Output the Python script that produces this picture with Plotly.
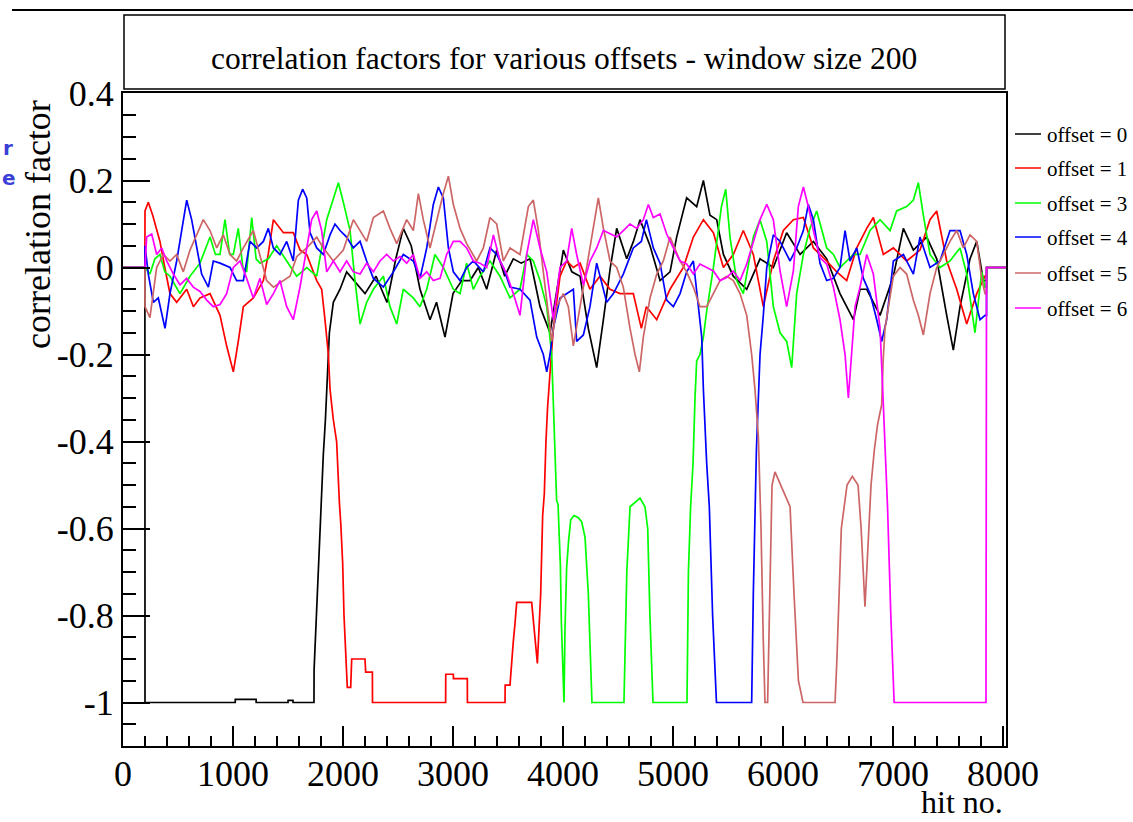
import plotly.graph_objects as go

W, H = 1133, 822

# ---- data: (hit no., correlation factor) ----
OFFSET_0 = [(0, 0), (199, 0), (200, -1), (1020, -1), (1021, -0.993), (1210, -0.993), (1211, -1), (1500, -1),
            (1501, -0.995), (1545, -0.995), (1546, -1), (1736, -1), (1737, -0.925), (1755, -0.82), (1775, -0.7),
            (1791, -0.6), (1806, -0.5), (1821, -0.43), (1840, -0.35), (1860, -0.25), (1876, -0.15), (1912, -0.08),
            (1973, -0.05), (2033, -0.01), (2100, -0.03), (2200, -0.06), (2300, -0.02), (2400, -0.08), (2480, 0.02),
            (2548, 0.09), (2620, 0.05), (2700, -0.05), (2791, -0.12), (2850, -0.08), (2927, -0.16), (3000, -0.06),
            (3080, -0.03), (3155, -0.03), (3230, 0.0), (3306, -0.05), (3397, 0.04), (3470, -0.02), (3548, 0.02),
            (3620, 0.01), (3700, 0.02), (3791, -0.09), (3882, -0.15), (3940, -0.06), (4003, 0.04), (4080, -0.01),
            (4155, -0.02), (4230, -0.14), (4306, -0.23), (4367, -0.12), (4430, 0.0), (4488, 0.09), (4579, 0.02),
            (4640, 0.06), (4700, 0.11), (4791, 0.05), (4882, -0.03), (4973, -0.01), (5033, 0.07), (5124, 0.16),
            (5215, 0.14), (5276, 0.2), (5336, 0.12), (5397, 0.11), (5458, 0.03), (5548, -0.02), (5670, -0.05),
            (5791, 0.02), (5912, 0.0), (6033, 0.08), (6155, 0.03), (6276, 0.06), (6397, 0.02), (6518, -0.06),
            (6579, -0.09), (6640, -0.12), (6700, -0.05), (6761, -0.05), (6882, -0.11), (7003, -0.02), (7094, 0.09),
            (7185, 0.04), (7306, 0.07), (7397, 0.02), (7488, -0.11), (7548, -0.19), (7609, -0.09), (7700, 0.02),
            (7761, 0.06), (7821, -0.03), (7850, -0.03), (7851, 0), (8040, 0)]

OFFSET_1 = [(0, 0), (199, 0), (200, 0.13), (230, 0.15), (270, 0.12), (336, 0.06), (380, 0.0), (427, -0.06),
            (488, -0.08), (579, -0.05), (640, -0.09), (700, -0.07), (791, -0.06), (882, -0.11), (942, -0.18),
            (1003, -0.24), (1048, -0.17), (1094, -0.09), (1185, -0.07), (1276, -0.03), (1320, 0.03), (1367, 0.11),
            (1458, 0.08), (1548, 0.08), (1610, 0.04), (1670, 0.03), (1761, -0.03), (1806, -0.05), (1836, -0.12),
            (1867, -0.2), (1882, -0.28), (1912, -0.35), (1942, -0.4), (1950, -0.46), (1967, -0.54), (1980, -0.59),
            (1997, -0.68), (2009, -0.8), (2027, -0.91), (2039, -0.965), (2070, -0.965), (2079, -0.9), (2200, -0.9),
            (2206, -0.93), (2267, -0.93), (2268, -1), (2933, -1), (2934, -0.935), (3003, -0.935), (3004, -0.945),
            (3130, -0.945), (3131, -1), (3473, -1), (3474, -0.96), (3518, -0.96), (3533, -0.9), (3548, -0.86),
            (3563, -0.82), (3579, -0.77), (3715, -0.77), (3736, -0.82), (3752, -0.86), (3767, -0.91), (3780, -0.84),
            (3797, -0.75), (3815, -0.57), (3830, -0.52), (3845, -0.4), (3860, -0.32), (3880, -0.25), (3897, -0.18),
            (3912, -0.14), (3973, -0.02), (4033, 0.015), (4094, 0.0), (4155, 0.01), (4245, -0.05), (4336, -0.02),
            (4427, -0.05), (4518, -0.06), (4639, -0.06), (4712, -0.14), (4758, -0.09), (4852, -0.12), (4973, -0.05),
            (5094, 0.0), (5185, 0.07), (5276, 0.11), (5367, 0.08), (5458, 0.0), (5548, 0.03), (5639, 0.085),
            (5730, 0.03), (5821, -0.09), (5912, 0.015), (6003, 0.085), (6094, 0.11), (6185, 0.115), (6276, 0.045),
            (6397, 0.015), (6488, -0.01), (6579, -0.03), (6670, 0.045), (6761, 0.09), (6821, 0.115), (6912, 0.03),
            (7003, 0.045), (7124, 0.015), (7245, 0.04), (7336, 0.11), (7397, 0.13), (7488, 0.015), (7579, -0.05),
            (7670, -0.13), (7761, -0.06), (7836, -0.02), (7850, -0.02), (7851, 0), (8040, 0)]

OFFSET_3 = [(0, 0), (199, 0), (200, 0.0), (245, -0.015), (290, 0.02), (336, 0.03), (380, -0.01), (427, -0.02),
            (518, -0.06), (609, -0.02), (700, 0.01), (791, 0.07), (840, 0.03), (882, 0.03), (927, 0.11), (970, 0.03),
            (1003, 0.03), (1048, 0.09), (1090, 0.0), (1124, -0.01), (1170, 0.115), (1210, 0.02), (1245, 0.01),
            (1321, 0.02), (1397, 0.05), (1488, 0.015), (1579, -0.02), (1670, 0.0), (1761, -0.02), (1852, 0.11),
            (1912, 0.16), (1958, 0.195), (2003, 0.15), (2064, 0.085), (2109, -0.03), (2155, -0.13), (2215, -0.08),
            (2276, -0.05), (2367, -0.02), (2427, -0.09), (2488, -0.13), (2548, -0.05), (2639, -0.07), (2700, -0.09),
            (2761, -0.05), (2836, 0.03), (2912, 0.0), (3003, -0.05), (3064, -0.06), (3124, 0.01), (3185, -0.05),
            (3245, -0.02), (3336, 0.015), (3427, -0.02), (3518, -0.07), (3609, -0.05), (3670, 0.03), (3730, 0.015),
            (3791, -0.03), (3852, -0.09), (3897, -0.2), (3912, -0.31), (3920, -0.415), (3927, -0.47), (3942, -0.535),
            (3955, -0.545), (3964, -0.615), (3976, -0.685), (3985, -0.815), (4009, -1.0), (4018, -0.83),
            (4033, -0.69), (4050, -0.63), (4070, -0.58), (4100, -0.57), (4140, -0.575), (4170, -0.585),
            (4200, -0.62), (4230, -0.75), (4263, -1.0), (4554, -1.0), (4580, -0.7), (4609, -0.55), (4650, -0.54),
            (4700, -0.53), (4745, -0.55), (4770, -0.6), (4790, -0.8), (4818, -1.0), (5127, -1.0), (5140, -0.7),
            (5160, -0.55), (5182, -0.45), (5200, -0.3), (5215, -0.215), (5245, -0.2), (5276, -0.16), (5306, -0.1),
            (5367, 0.0), (5440, 0.14), (5479, 0.18), (5518, 0.07), (5579, -0.03), (5639, -0.06), (5730, 0.07),
            (5791, 0.11), (5852, 0.06), (5912, -0.09), (5973, -0.15), (6033, -0.17), (6079, -0.23), (6124, -0.06),
            (6185, 0.03), (6245, 0.09), (6306, 0.13), (6397, 0.045), (6458, 0.03), (6518, 0.0), (6579, 0.015),
            (6640, 0.03), (6700, 0.03), (6791, 0.085), (6882, 0.11), (6973, 0.085), (7033, 0.13), (7124, 0.14),
            (7185, 0.155), (7230, 0.195), (7276, 0.12), (7336, 0.03), (7427, 0.0), (7518, 0.015), (7609, 0.045),
            (7670, -0.015), (7745, -0.15), (7806, -0.01), (7836, -0.045), (7850, -0.045), (7851, 0), (8040, 0)]

OFFSET_4 = [(0, 0), (199, 0), (200, 0.05), (230, -0.015), (276, -0.08), (321, -0.07), (382, -0.14), (427, -0.06),
            (488, 0.015), (533, 0.085), (579, 0.155), (624, 0.11), (670, 0.045), (715, -0.015), (776, -0.045),
            (821, 0.015), (882, 0.01), (973, 0.0), (1033, -0.03), (1094, -0.03), (1155, 0.06), (1215, 0.045),
            (1276, 0.06), (1321, 0.09), (1367, 0.045), (1427, 0.03), (1488, 0.06), (1548, 0.015), (1594, 0.155),
            (1633, 0.18), (1670, 0.16), (1700, 0.08), (1761, 0.045), (1821, 0.03), (1882, 0.075), (1927, 0.1),
            (1973, 0.085), (2033, 0.07), (2094, 0.045), (2155, 0.06), (2215, 0.015), (2276, -0.025), (2367, -0.045),
            (2458, -0.01), (2548, 0.03), (2639, 0.015), (2700, -0.025), (2761, 0.045), (2821, 0.145), (2867, 0.185),
            (2912, 0.16), (2958, 0.045), (3003, -0.01), (3064, -0.03), (3124, 0.0), (3185, 0.015), (3276, -0.01),
            (3336, 0.045), (3397, 0.03), (3458, 0.0), (3518, -0.045), (3609, -0.05), (3700, -0.075), (3761, -0.16),
            (3821, -0.2), (3852, -0.24), (3882, -0.2), (3912, -0.14), (3973, -0.07), (4033, -0.06), (4094, -0.05),
            (4124, -0.17), (4185, -0.155), (4245, -0.09), (4306, 0.01), (4397, -0.08), (4458, -0.06), (4548, -0.015),
            (4639, 0.045), (4712, 0.06), (4758, 0.11), (4821, 0.045), (4882, 0.01), (4942, -0.075), (5003, -0.09),
            (5064, -0.06), (5124, -0.01), (5185, 0.015), (5230, -0.09), (5261, -0.16), (5276, -0.28), (5291, -0.37),
            (5306, -0.45), (5330, -0.55), (5360, -0.8), (5395, -1.0), (5715, -1.0), (5730, -0.75), (5745, -0.55),
            (5758, -0.42), (5776, -0.3), (5791, -0.2), (5821, -0.11), (5852, 0.0), (5912, 0.075), (5973, 0.06),
            (6064, 0.015), (6124, 0.045), (6185, 0.085), (6230, 0.145), (6276, 0.11), (6336, 0.01), (6397, -0.03),
            (6458, -0.025), (6518, 0.0), (6564, 0.085), (6609, 0.015), (6670, 0.045), (6730, -0.025), (6791, -0.06),
            (6852, -0.12), (6897, -0.17), (6942, -0.12), (7003, 0.015), (7094, 0.03), (7185, -0.015), (7245, 0.07),
            (7336, 0.0), (7427, 0.015), (7518, 0.085), (7609, 0.085), (7670, 0.03), (7730, -0.06), (7791, -0.12),
            (7836, -0.11), (7850, -0.11), (7851, 0), (8040, 0)]

OFFSET_5 = [(0, 0), (199, 0), (200, -0.09), (245, -0.115), (306, 0.0), (367, 0.03), (427, 0.015), (488, 0.03),
            (548, -0.01), (609, 0.04), (670, 0.075), (730, 0.11), (791, 0.085), (852, 0.045), (912, 0.075),
            (973, 0.03), (1033, 0.015), (1094, 0.045), (1185, 0.085), (1245, 0.03), (1306, -0.03), (1367, -0.045),
            (1458, -0.03), (1518, -0.02), (1579, 0.025), (1670, 0.045), (1761, 0.07), (1821, 0.045), (1912, 0.015),
            (2003, 0.04), (2094, 0.11), (2155, 0.085), (2215, 0.06), (2276, 0.115), (2367, 0.13), (2427, 0.09),
            (2488, 0.055), (2579, 0.11), (2639, 0.085), (2685, 0.17), (2730, 0.11), (2791, 0.045), (2852, 0.11),
            (2912, 0.17), (2958, 0.21), (3003, 0.145), (3064, 0.09), (3124, 0.055), (3215, 0.015), (3276, 0.045),
            (3336, 0.115), (3397, 0.1), (3458, 0.015), (3518, 0.045), (3609, 0.03), (3685, 0.14), (3730, 0.155),
            (3776, 0.085), (3821, -0.01), (3867, -0.11), (3897, -0.17), (3942, -0.09), (4003, -0.06), (4048, -0.09),
            (4094, -0.18), (4155, -0.09), (4215, 0.0), (4276, 0.085), (4321, 0.16), (4367, 0.09), (4427, 0.015),
            (4488, 0.0), (4548, -0.045), (4609, -0.14), (4655, -0.2), (4694, -0.24), (4730, -0.16), (4791, -0.07),
            (4852, -0.015), (4912, 0.015), (4973, 0.07), (5064, 0.015), (5124, -0.01), (5185, -0.045),
            (5245, -0.09), (5306, -0.09), (5367, -0.06), (5427, -0.03), (5488, -0.02), (5548, -0.03), (5609, -0.06),
            (5670, -0.11), (5715, -0.2), (5745, -0.28), (5776, -0.39), (5800, -0.6), (5820, -0.85), (5836, -1.0),
            (5860, -1.0), (5880, -0.7), (5900, -0.5), (5927, -0.47), (5980, -0.5), (6030, -0.53), (6064, -0.55),
            (6100, -0.75), (6140, -0.95), (6182, -1.0), (6473, -1.0), (6490, -0.9), (6530, -0.6), (6582, -0.5),
            (6630, -0.48), (6682, -0.5), (6710, -0.6), (6745, -0.78), (6770, -0.65), (6800, -0.5), (6830, -0.42),
            (6860, -0.36), (6897, -0.315), (6910, -0.215), (6927, -0.14), (6958, -0.09), (7003, -0.02), (7064, 0.0),
            (7124, -0.015), (7185, -0.075), (7230, -0.11), (7276, -0.155), (7336, -0.06), (7397, 0.0), (7458, 0.03),
            (7518, 0.06), (7579, 0.085), (7639, 0.045), (7700, 0.075), (7761, 0.06), (7806, -0.025), (7836, -0.06),
            (7850, -0.06), (7851, 0), (8040, 0)]

OFFSET_6 = [(0, 0), (199, 0), (200, 0.0), (215, 0.07), (261, 0.077), (306, 0.03), (352, 0.045), (397, 0.015),
            (458, -0.015), (518, -0.04), (579, -0.025), (639, -0.045), (700, -0.055), (761, -0.075), (821, -0.09),
            (882, -0.085), (942, -0.06), (1003, 0.0), (1064, 0.015), (1124, -0.025), (1185, -0.07), (1245, -0.025),
            (1306, -0.085), (1367, -0.06), (1427, -0.03), (1488, -0.09), (1548, -0.12), (1609, -0.045), (1670, 0.045),
            (1715, 0.11), (1761, 0.13), (1806, 0.085), (1852, -0.01), (1912, 0.015), (1973, -0.01), (2033, 0.015),
            (2094, -0.01), (2155, -0.015), (2215, 0.01), (2276, -0.01), (2336, 0.015), (2397, 0.03), (2458, 0.015),
            (2518, 0.025), (2579, 0.01), (2639, 0.03), (2700, -0.025), (2761, -0.01), (2821, -0.03), (2882, -0.025),
            (2942, 0.03), (3003, 0.06), (3064, 0.06), (3124, 0.045), (3185, 0.015), (3245, 0.01), (3306, 0.0),
            (3367, 0.075), (3427, 0.015), (3488, -0.015), (3548, -0.06), (3609, -0.11), (3670, 0.03), (3730, 0.11),
            (3791, 0.045), (3852, -0.01), (3912, -0.12), (3973, 0.0), (4033, 0.015), (4079, 0.09), (4124, 0.03),
            (4185, -0.04), (4245, 0.015), (4306, 0.045), (4367, 0.085), (4427, 0.077), (4488, 0.07), (4548, 0.085),
            (4609, 0.1), (4670, 0.09), (4730, 0.11), (4776, 0.145), (4821, 0.115), (4882, 0.123), (4942, 0.077),
            (5003, 0.045), (5064, 0.015), (5124, 0.008), (5185, -0.015), (5245, 0.008), (5306, 0.0), (5367, -0.008),
            (5427, -0.03), (5488, -0.023), (5548, -0.008), (5609, -0.03), (5670, 0.008), (5730, 0.06), (5791, 0.11),
            (5852, 0.145), (5912, 0.11), (5973, -0.008), (6033, -0.09), (6094, -0.008), (6139, 0.14), (6185, 0.185),
            (6230, 0.14), (6276, 0.085), (6336, 0.023), (6397, 0.008), (6458, -0.045), (6518, -0.12), (6564, -0.2),
            (6594, -0.3), (6624, -0.185), (6655, -0.09), (6700, -0.045), (6761, 0.03), (6821, -0.015), (6882, -0.14),
            (6906, -0.28), (6927, -0.42), (6950, -0.55), (6980, -0.8), (7010, -1.0), (7845, -1.0), (7850, 0),
            (8040, 0)]

SERIES = [OFFSET_0, OFFSET_1, OFFSET_3, OFFSET_4, OFFSET_5, OFFSET_6]
SERIES_NAMES = ["offset = 0", "offset = 1", "offset = 3", "offset = 4", "offset = 5", "offset = 6"]
SERIES_COLORS = ["#000000", "#ff0000", "#00ff00", "#0000ff", "#cc6666", "#ff00ff"]

X_TICKS = [0, 1000, 2000, 3000, 4000, 5000, 6000, 7000, 8000]
X_TICK_LABELS = ["0", "1000", "2000", "3000", "4000", "5000", "6000", "7000", "8000"]
Y_TICKS = [-1.0, -0.8, -0.6, -0.4, -0.2, 0.0, 0.2, 0.4]
Y_TICK_LABELS = ["-1", "-0.8", "-0.6", "-0.4", "-0.2", "0", "0.2", "0.4"]

TITLE = "correlation factors for various offsets - window size 200"
X_TITLE = "hit no."
Y_TITLE = "correlation factor"

SERIF = "Liberation Serif, Times New Roman, serif"


def fx(px):
    return px / W


def fy(py):
    return 1 - py / H


fig = go.Figure()
for pts, name, col in zip(SERIES, SERIES_NAMES, SERIES_COLORS):
    fig.add_trace(go.Scatter(
        x=[p[0] for p in pts], y=[p[1] for p in pts], mode="lines", name=name,
        line=dict(color=col, width=1.7), showlegend=False, hoverinfo="skip"))

axis_common = dict(showgrid=False, zeroline=False, showline=True, linewidth=2, linecolor="black",
                   mirror=True, ticks="inside", tickcolor="black", tickwidth=1.5, automargin=False,
                   tickfont=dict(family=SERIF, size=36, color="black"), tickmode="array")

fig.update_layout(
    width=W, height=H, autosize=False,
    margin=dict(l=0, r=0, t=0, b=0, pad=0, autoexpand=False),
    paper_bgcolor="white", plot_bgcolor="white",
    xaxis=dict(domain=[fx(123), fx(1006)], range=[0, 8027], tickvals=X_TICKS, ticktext=X_TICK_LABELS,
               ticklen=20, ticklabelstandoff=-5,
               minor=dict(tickmode="linear", tick0=0, dtick=200, ticklen=10, ticks="inside",
                          tickwidth=1.5, tickcolor="black", showgrid=False),
               **axis_common),
    yaxis=dict(domain=[fy(746), fy(93.3)], range=[-1.1, 0.4005], tickvals=Y_TICKS, ticktext=Y_TICK_LABELS,
               ticklen=27, minor=dict(tickmode="linear", tick0=0, dtick=0.05, ticklen=13, ticks="inside",
                                      tickwidth=1.5, tickcolor="black", showgrid=False),
               **axis_common),
    showlegend=False,
)

shapes = [
    # slide top rule
    dict(type="line", xref="paper", yref="paper", x0=fx(12), x1=fx(1133), y0=fy(10), y1=fy(10),
         line=dict(color="black", width=2)),
    # title box
    dict(type="rect", xref="paper", yref="paper", x0=fx(124), x1=fx(1005), y0=fy(89), y1=fy(15),
         line=dict(color="black", width=1.5), fillcolor="white"),
]
annotations = [
    dict(text=TITLE, xref="paper", yref="paper", x=fx(564), y=fy(58), xanchor="center", yanchor="middle",
         showarrow=False, font=dict(family=SERIF, size=31.5, color="black")),
    dict(text=Y_TITLE, xref="paper", yref="paper", x=fx(38), y=fy(225), xanchor="center", yanchor="middle",
         textangle=-90, showarrow=False, font=dict(family=SERIF, size=36, color="black")),
    dict(text=X_TITLE, xref="paper", yref="paper", x=fx(1005), y=fy(822), xanchor="right", yanchor="bottom",
         showarrow=False, font=dict(family=SERIF, size=32, color="black")),
    dict(text="<b>r</b>", xref="paper", yref="paper", x=fx(1), y=fy(148), xanchor="left", yanchor="middle",
         showarrow=False, font=dict(family="DejaVu Sans", size=20, color="#3b3fd6")),
    dict(text="<b>e</b>", xref="paper", yref="paper", x=fx(0), y=fy(178), xanchor="left", yanchor="middle",
         showarrow=False, font=dict(family="DejaVu Sans", size=20, color="#3b3fd6")),
]

LEG_Y = [134, 168, 203, 237, 273, 308]
for name, col, ly in zip(SERIES_NAMES, SERIES_COLORS, LEG_Y):
    shapes.append(dict(type="line", xref="paper", yref="paper", x0=fx(1015), x1=fx(1041), y0=fy(ly), y1=fy(ly),
                       line=dict(color=col, width=1.5)))
    annotations.append(dict(text=name, xref="paper", yref="paper", x=fx(1045), y=fy(ly + 1), xanchor="left",
                            yanchor="middle", showarrow=False,
                            font=dict(family=SERIF, size=21, color="black")))

fig.update_layout(shapes=shapes, annotations=annotations)
fig.write_html("out.html", config={"displayModeBar": False},
               post_script="document.body.style.margin='0px';document.body.style.overflow='hidden';")
